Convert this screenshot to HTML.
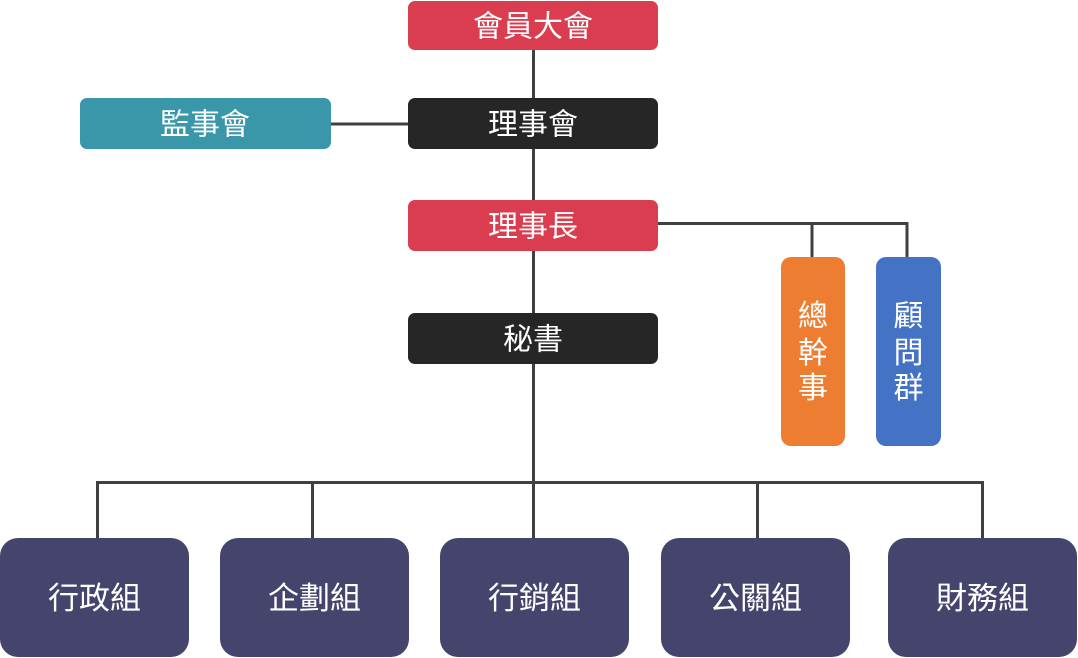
<!DOCTYPE html>
<html>
<head>
<meta charset="utf-8">
<style>
  html, body { margin: 0; padding: 0; background: #ffffff; }
  body { width: 1078px; height: 658px; overflow: hidden; }
  svg { display: block; }
  text { font-family: "Liberation Sans", "Noto Sans CJK TC", "Noto Sans CJK SC", sans-serif; fill: #ffffff; }
</style>
</head>
<body>
<svg width="1078" height="658" viewBox="0 0 1078 658" xmlns="http://www.w3.org/2000/svg">
  <!-- connectors -->
  <g stroke="#404040" stroke-width="3" fill="none">
    <line x1="533.5" y1="50" x2="533.5" y2="538"/>
    <line x1="331" y1="124" x2="408" y2="124"/>
    <polyline points="658,223.5 907,223.5 907,257"/>
    <line x1="812" y1="223.5" x2="812" y2="257"/>
    <polyline points="97.5,538 97.5,482.5 982.5,482.5 982.5,538"/>
    <line x1="312.5" y1="482.5" x2="312.5" y2="538"/>
    <line x1="757.5" y1="482.5" x2="757.5" y2="538"/>
  </g>

  <!-- top boxes -->
  <rect x="408" y="1" width="250" height="49" rx="7" fill="#DA3D4F"/>
  <text x="533" y="36.5" font-size="30" text-anchor="middle">會員大會</text>

  <rect x="408" y="98" width="250" height="51" rx="7" fill="#262626"/>
  <text x="533" y="134.5" font-size="30" text-anchor="middle">理事會</text>

  <rect x="80" y="98" width="251" height="51" rx="7" fill="#3A97A9"/>
  <text x="205" y="134.5" font-size="30" text-anchor="middle">監事會</text>

  <rect x="408" y="200" width="250" height="51" rx="7" fill="#DA3D4F"/>
  <text x="533" y="236.5" font-size="30" text-anchor="middle">理事長</text>

  <rect x="408" y="313" width="250" height="51" rx="7" fill="#262626"/>
  <text x="533" y="349.5" font-size="30" text-anchor="middle">秘書</text>

  <!-- vertical boxes -->
  <rect x="781" y="257" width="64" height="189" rx="10" fill="#ED7D31"/>
  <text x="813" y="326" font-size="30" text-anchor="middle">總</text>
  <text x="813" y="363" font-size="30" text-anchor="middle">幹</text>
  <text x="813" y="398" font-size="30" text-anchor="middle">事</text>

  <rect x="876" y="257" width="65" height="189" rx="10" fill="#4472C4"/>
  <text x="908.5" y="326" font-size="30" text-anchor="middle">顧</text>
  <text x="908.5" y="363" font-size="30" text-anchor="middle">問</text>
  <text x="908.5" y="398" font-size="30" text-anchor="middle">群</text>

  <!-- bottom boxes -->
  <g fill="#45446D">
    <rect x="0" y="538" width="189" height="119" rx="18"/>
    <rect x="220" y="538" width="189" height="119" rx="18"/>
    <rect x="440" y="538" width="189" height="119" rx="18"/>
    <rect x="661" y="538" width="189" height="119" rx="18"/>
    <rect x="888" y="538" width="189" height="119" rx="18"/>
  </g>
  <text x="94.5" y="609" font-size="31" text-anchor="middle">行政組</text>
  <text x="314.5" y="609" font-size="31" text-anchor="middle">企劃組</text>
  <text x="534.5" y="609" font-size="31" text-anchor="middle">行銷組</text>
  <text x="755.5" y="609" font-size="31" text-anchor="middle">公關組</text>
  <text x="982.5" y="609" font-size="31" text-anchor="middle">財務組</text>
</svg>
</body>
</html>
